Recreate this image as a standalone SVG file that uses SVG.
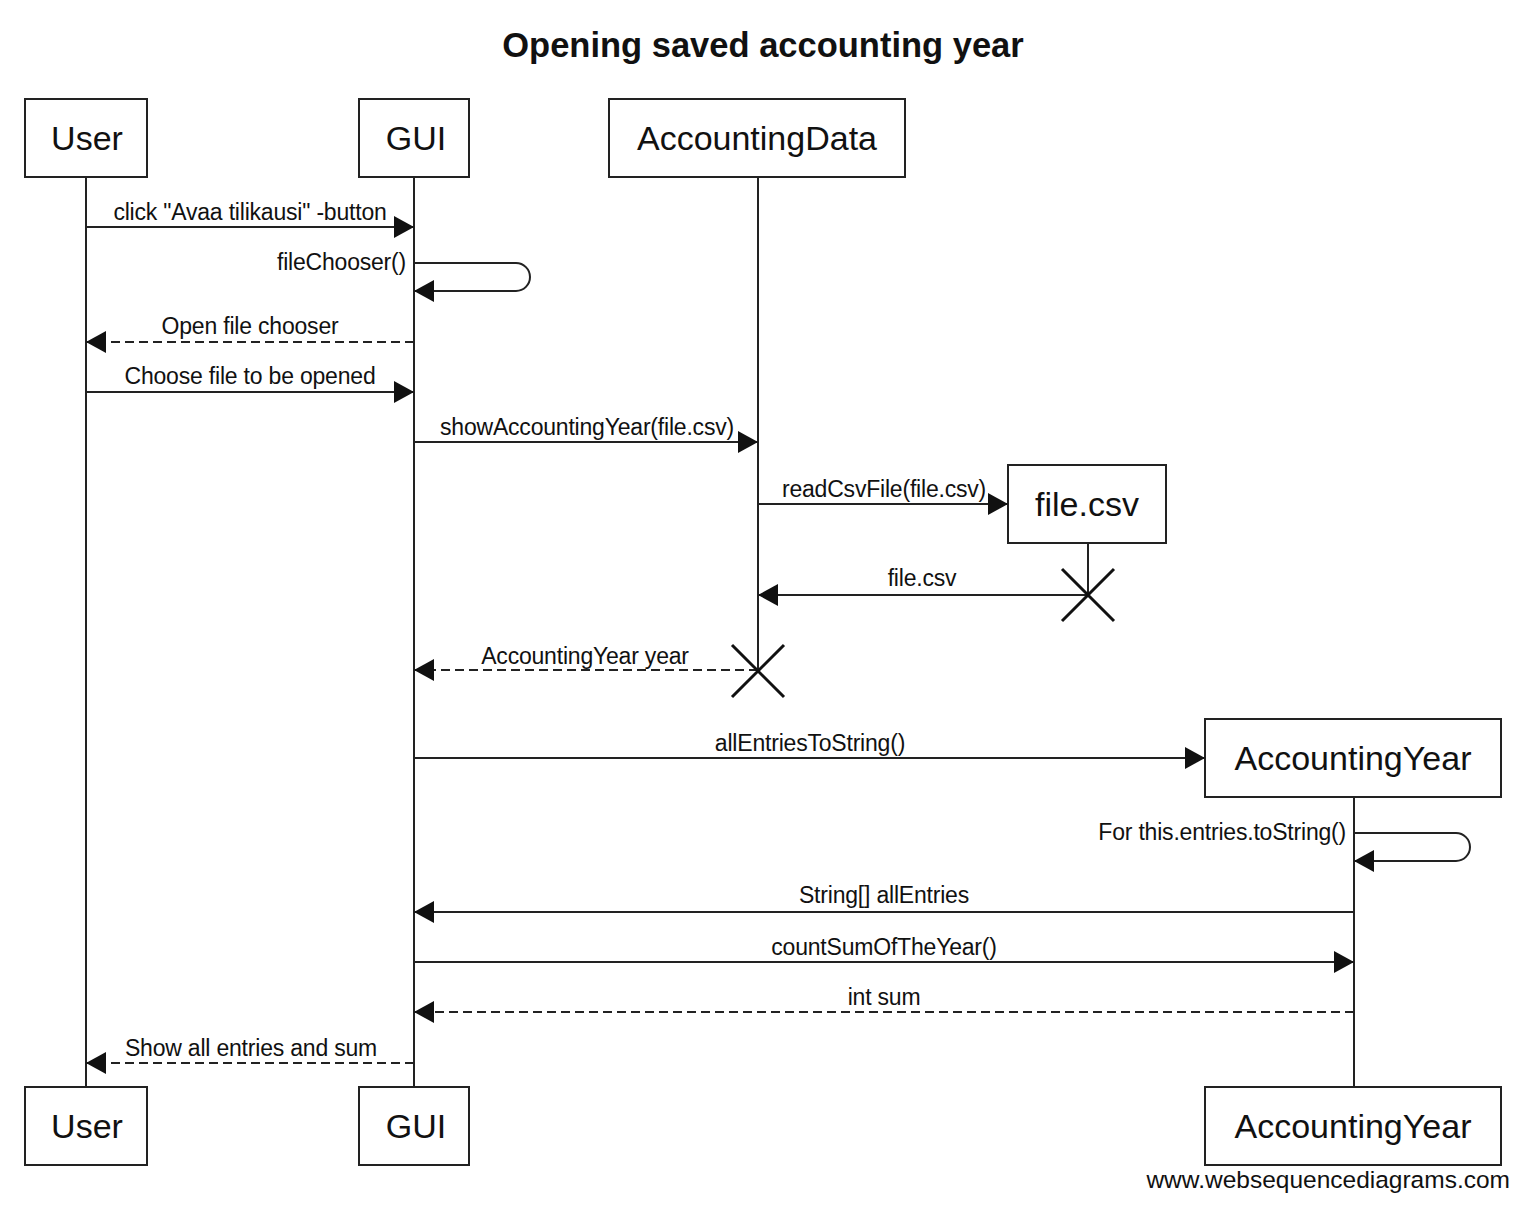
<svg xmlns="http://www.w3.org/2000/svg" width="1520" height="1210" viewBox="0 0 1520 1210">
<style>
.box{fill:#fff;stroke:#222;stroke-width:2}
.life{stroke:#222;stroke-width:2;fill:none}
.msg{stroke:#222;stroke-width:2;fill:none}
.dash{stroke-dasharray:9,5}
.pt{font-family:"Liberation Sans",Arial,sans-serif;font-size:34px;fill:#111;text-anchor:middle}
.lbl{font-family:"Liberation Sans",Arial,sans-serif;font-size:23px;fill:#111;text-anchor:middle;letter-spacing:-0.2px}
.r{text-anchor:end}
.x{stroke:#111;stroke-width:3;fill:none}
</style>
<defs>
<marker id="ah" markerUnits="userSpaceOnUse" markerWidth="22" markerHeight="24" refX="21" refY="12" orient="auto" viewBox="0 0 22 24">
<path d="M1,1 L21,12 L1,23 z" fill="#111"/>
</marker>
</defs>
<rect width="1520" height="1210" fill="#fff"/>
<text x="763" y="57" font-family="Liberation Sans,Arial,sans-serif" font-size="34.5" font-weight="bold" text-anchor="middle" fill="#111">Opening saved accounting year</text>

<g id="lifelines">
<line class="life" x1="86" y1="177" x2="86" y2="1087"/>
<line class="life" x1="414" y1="177" x2="414" y2="1087"/>
<line class="life" x1="758" y1="177" x2="758" y2="670"/>
<line class="life" x1="1088" y1="543" x2="1088" y2="595"/>
<line class="life" x1="1354" y1="797" x2="1354" y2="1087"/>
</g>

<g id="node-user">
<rect class="box" x="25" y="99" width="122" height="78"/>
<text class="pt" x="87" y="150">User</text>
</g>
<g id="node-gui">
<rect class="box" x="359" y="99" width="110" height="78"/>
<text class="pt" x="416" y="150">GUI</text>
</g>
<g id="node-accountingdata">
<rect class="box" x="609" y="99" width="296" height="78"/>
<text class="pt" x="757" y="150">AccountingData</text>
</g>
<g id="node-filecsv">
<rect class="box" x="1008" y="465" width="158" height="78"/>
<text class="pt" x="1087" y="516">file.csv</text>
</g>
<g id="node-accountingyear">
<rect class="box" x="1205" y="719" width="296" height="78"/>
<text class="pt" x="1353" y="770">AccountingYear</text>
</g>
<g id="node-user-bottom">
<rect class="box" x="25" y="1087" width="122" height="78"/>
<text class="pt" x="87" y="1138">User</text>
</g>
<g id="node-gui-bottom">
<rect class="box" x="359" y="1087" width="110" height="78"/>
<text class="pt" x="416" y="1138">GUI</text>
</g>
<g id="node-accountingyear-bottom">
<rect class="box" x="1205" y="1087" width="296" height="78"/>
<text class="pt" x="1353" y="1138">AccountingYear</text>
</g>

<g id="connectors">
<line class="msg" x1="86" y1="227" x2="414" y2="227" marker-end="url(#ah)"/>
<text class="lbl" x="250" y="220">click "Avaa tilikausi" -button</text>

<path class="msg" d="M414,263 H516 A14,14 0 0 1 516,291 H414" marker-end="url(#ah)"/>
<text class="lbl r" x="406" y="270">fileChooser()</text>

<line class="msg dash" x1="414" y1="342" x2="86" y2="342" marker-end="url(#ah)"/>
<text class="lbl" x="250" y="334">Open file chooser</text>

<line class="msg" x1="86" y1="392" x2="414" y2="392" marker-end="url(#ah)"/>
<text class="lbl" x="250" y="384">Choose file to be opened</text>

<line class="msg" x1="414" y1="442" x2="758" y2="442" marker-end="url(#ah)"/>
<text class="lbl" x="587" y="435">showAccountingYear(file.csv)</text>

<line class="msg" x1="758" y1="504" x2="1008" y2="504" marker-end="url(#ah)"/>
<text class="lbl" x="884" y="497">readCsvFile(file.csv)</text>

<line class="msg" x1="1088" y1="595" x2="758" y2="595" marker-end="url(#ah)"/>
<text class="lbl" x="922" y="586">file.csv</text>
<path class="x" d="M1062,569 L1114,621 M1114,569 L1062,621"/>

<line class="msg dash" x1="758" y1="670" x2="414" y2="670" marker-end="url(#ah)"/>
<text class="lbl" x="585" y="664">AccountingYear year</text>
<path class="x" d="M732,645 L784,697 M784,645 L732,697"/>

<line class="msg" x1="414" y1="758" x2="1205" y2="758" marker-end="url(#ah)"/>
<text class="lbl" x="810" y="751">allEntriesToString()</text>

<path class="msg" d="M1354,833 H1456 A14,14 0 0 1 1456,861 H1354" marker-end="url(#ah)"/>
<text class="lbl r" x="1346" y="840">For this.entries.toString()</text>

<line class="msg" x1="1354" y1="912" x2="414" y2="912" marker-end="url(#ah)"/>
<text class="lbl" x="884" y="903">String[] allEntries</text>

<line class="msg" x1="414" y1="962" x2="1354" y2="962" marker-end="url(#ah)"/>
<text class="lbl" x="884" y="955">countSumOfTheYear()</text>

<line class="msg dash" x1="1354" y1="1012" x2="414" y2="1012" marker-end="url(#ah)"/>
<text class="lbl" x="884" y="1005">int sum</text>

<line class="msg dash" x1="414" y1="1063" x2="86" y2="1063" marker-end="url(#ah)"/>
<text class="lbl" x="251" y="1056">Show all entries and sum</text>
</g>

<text x="1510" y="1188" font-family="Liberation Sans,Arial,sans-serif" font-size="24.5" text-anchor="end" fill="#111">www.websequencediagrams.com</text>
</svg>
